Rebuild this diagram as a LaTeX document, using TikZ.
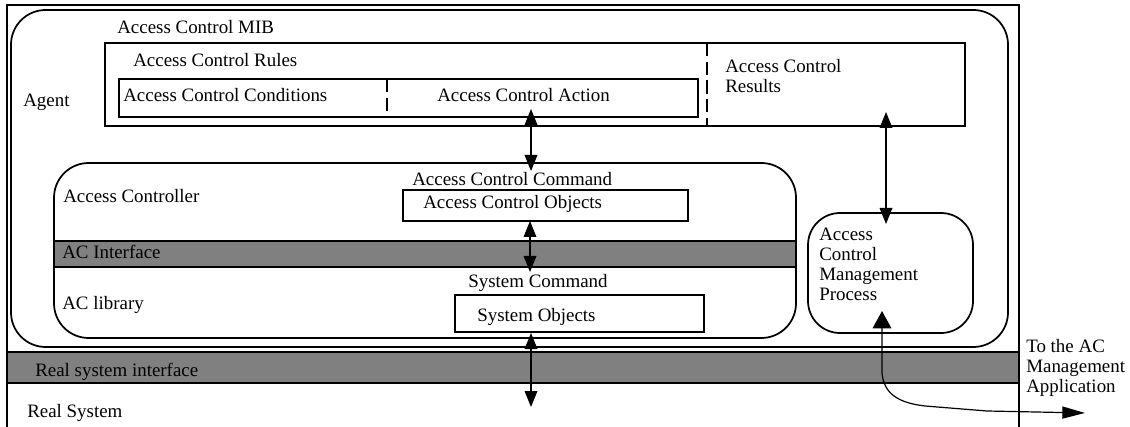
\documentclass[tikz,border=0pt]{standalone}
\usepackage{fontspec}
\setmainfont{Liberation Serif}
\usetikzlibrary{arrows.meta,fit}
\begin{document}
\begin{tikzpicture}[x=0.75pt,y=-0.75pt,
  lbl/.style={inner sep=0pt, font=\fontsize{14.2pt}{15pt}\selectfont, anchor=base west},
  mlbl/.style={inner sep=0pt, font=\fontsize{14.2pt}{15pt}\selectfont, anchor=north west, align=left},
  boxr/.style={draw, inner sep=0pt, line width=1.5pt},
  roundbox/.style={draw, inner sep=0pt, line width=1.3pt, rounded corners=26pt},
  band/.style={draw, fill=gray, inner sep=0pt, line width=1pt},
  divider/.style={line width=0.8pt, dash pattern=on 10pt off 4pt},
  dblarrow/.style={line width=0.9pt, {Triangle[length=12pt,width=9.5pt]}-{Triangle[length=12pt,width=9.5pt]}},
]
\useasboundingbox (0,0) rectangle (1130,427);
\fill[white] (0,0) rectangle (1130,427);

% outer frame
\coordinate (obl) at (7,427);
\coordinate (otl) at (7,5);
\coordinate (otr) at (1019,5);
\coordinate (obr) at (1019,427);
\draw[line width=1.6pt] (obl) -- (otl) -- (otr) -- (obr);

% Agent
\node[roundbox, fit={(11,10) (1008,347)}] (agent) {};
\node[lbl] (tagent) at (23,107) {Agent};
\node[lbl] (tmib) at (117,34) {Access Control MIB};

% Rules
\node[boxr, fit={(105,43) (965,126)}] (rules) {};
\coordinate (rdtop) at (707,43);
\coordinate (rdbot) at (707,126);
\draw[divider] (rdtop) -- (rdbot);
\node[lbl] (trules) at (133,66.7) {Access Control Rules};
\node[mlbl] (tresults) at (725,59) {Access Control\\Results};

\node[boxr, fit={(119,79) (698,117)}] (condact) {};
\coordinate (cdtop) at (387,79);
\coordinate (cdbot) at (387,117);
\draw[divider] (cdtop) -- (cdbot);
\node[lbl] (tcond) at (123,101.7) {Access Control Conditions};
\node[lbl] (taction) at (437,102) {Access Control Action};

% Access Controller
\node[band, fit={(54,241) (796,267)}] (acif) {};
\node[roundbox, fit={(54,163) (796,338)}] (controller) {};
\node[lbl] (tctrl) at (63,203) {Access Controller};
\node[lbl] (tacif) at (62,259) {AC Interface};
\node[lbl] (tlib) at (62,310) {AC library};

\node[lbl] (tacc) at (412,186) {Access Control Command};
\node[boxr, fit={(403,190) (688,221)}] (aco) {};
\node[lbl] (taco) at (423,209) {Access Control Objects};

\node[lbl] (tsc) at (468,288) {System Command};
\node[boxr, fit={(455,295) (704,332)}] (so) {};
\node[lbl] (tso) at (477,321) {System Objects};

% ACMP
\node[roundbox, rounded corners=24pt, fit={(808,213) (973,333)}] (acmp) {};
\node[mlbl] (tacmp) at (819,228) {Access\\Control\\Management\\Process};

% Real system interface
\node[band, fit={(7,352) (1019,383)}] (rsi) {};
\node[lbl] (trsi) at (35,376) {Real system interface};
\node[lbl] (trs) at (27,417) {Real System};
\node[mlbl] (tto) at (1026,338.7) {To the AC\\Management\\Application};

% arrows
\coordinate (a1t) at (531,109);
\coordinate (a1b) at (531,171);
\coordinate (a2t) at (530,221);
\coordinate (a2b) at (530,272);
\coordinate (a3t) at (531,333);
\coordinate (a3b) at (531,407);
\coordinate (a4t) at (886,112);
\coordinate (a4b) at (886,224);
\draw[dblarrow] (a1t) -- (a1b);
\draw[dblarrow] (a2t) -- (a2b);
\draw[dblarrow] (a3t) -- (a3b);
\draw[dblarrow] (a4t) -- (a4b);

\coordinate (a5s) at (882,311);
\coordinate (a5m) at (882,373);
\coordinate (a5n) at (925,406);
\coordinate (a5e) at (1085,413);
\draw[line width=0.9pt, {Triangle[length=13pt,width=14pt]}-{Triangle[length=17pt,width=9pt]}]
  (a5s) -- (a5m) .. controls (884,395) and (900,403) .. (a5n) -- (987,411) -- (a5e);
\end{tikzpicture}
\end{document}
